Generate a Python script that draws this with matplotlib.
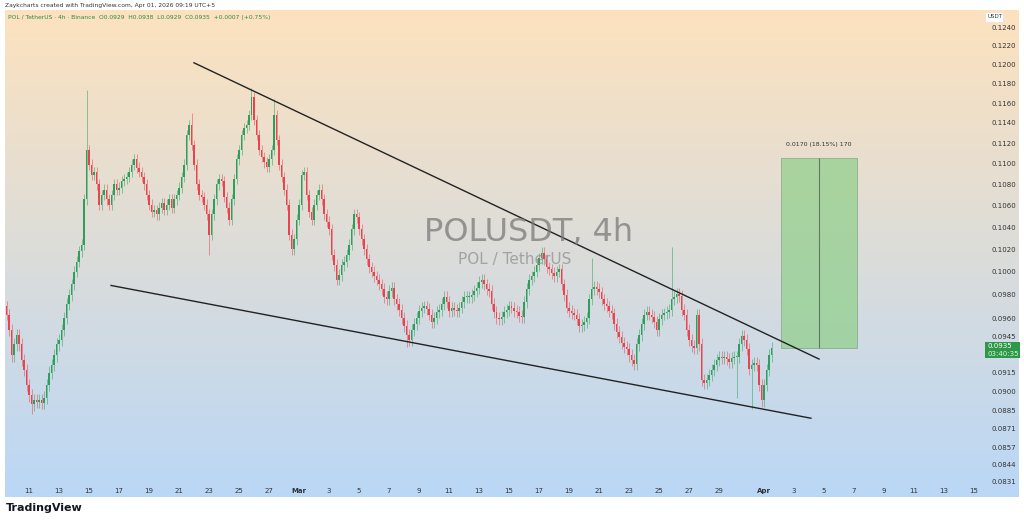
import numpy as np
import matplotlib
matplotlib.use("Agg")
import matplotlib.pyplot as plt
from matplotlib.patches import Rectangle

# ---- data (4h closes, POLUSDT) ----
closes = [
 .0963,.0950,.0929,.0938,.0946,.0938,
 .0925,.0917,.0905,.0897,.0890,.0893,
 .0892,.0893,.0891,.0895,.0905,.0915,
 .0921,.0929,.0938,.0942,.0950,.0960,
 .0972,.0980,.0989,.1000,.1009,.1018,
 .1024,.1066,.1113,.1099,.1089,.1092,
 .1080,.1061,.1070,.1075,.1066,.1061,
 .1070,.1080,.1075,.1077,.1083,.1085,
 .1087,.1092,.1099,.1104,.1096,.1092,
 .1087,.1080,.1070,.1061,.1054,.1056,
 .1052,.1058,.1062,.1056,.1061,.1066,
 .1058,.1066,.1070,.1077,.1087,.1099,
 .1128,.1138,.1118,.1099,.1080,.1070,
 .1068,.1061,.1052,.1033,.1052,.1066,
 .1080,.1085,.1083,.1068,.1058,.1047,
 .1066,.1085,.1104,.1113,.1128,.1135,
 .1138,.1148,.1166,.1143,.1128,.1113,
 .1106,.1101,.1097,.1104,.1113,.1148,
 .1123,.1099,.1087,.1075,.1061,.1033,
 .1020,.1029,.1047,.1061,.1089,.1092,
 .1070,.1054,.1047,.1061,.1070,.1075,
 .1066,.1052,.1045,.1038,.1015,.1006,
 .0993,.0997,.1006,.1009,.1015,.1024,
 .1038,.1052,.1049,.1038,.1029,.1020,
 .1011,.1004,.1000,.0996,.0993,.0989,
 .0985,.0978,.0976,.0983,.0986,.0976,
 .0972,.0967,.0960,.0953,.0946,.0942,
 .0950,.0955,.0960,.0966,.0969,.0970,
 .0968,.0963,.0957,.0960,.0965,.0967,
 .0972,.0978,.0974,.0966,.0969,.0967,
 .0966,.0969,.0974,.0978,.0978,.0978,
 .0980,.0983,.0986,.0991,.0993,.0989,
 .0985,.0983,.0972,.0965,.0960,.0959,
 .0961,.0965,.0967,.0970,.0969,.0966,
 .0965,.0962,.0961,.0974,.0985,.0993,
 .0996,.1000,.1006,.1012,.1017,.1011,
 .1004,.1002,.0999,.0996,.1000,.1002,
 .0989,.0980,.0969,.0966,.0964,.0963,
 .0959,.0953,.0954,.0957,.0960,.0976,
 .0985,.0987,.0985,.0982,.0976,.0972,
 .0970,.0966,.0964,.0955,.0948,.0944,
 .0939,.0936,.0934,.0929,.0925,.0922,
 .0938,.0946,.0955,.0963,.0965,.0963,
 .0961,.0957,.0950,.0959,.0963,.0964,
 .0965,.0967,.0976,.0978,.0981,.0979,
 .0967,.0963,.0950,.0942,.0937,.0935,
 .0963,.0938,.0909,.0907,.0909,.0913,
 .0917,.0921,.0925,.0928,.0927,.0928,
 .0926,.0924,.0927,.0928,.0928,.0938,
 .0945,.0942,.0934,.0918,.0921,.0923,
 .0921,.0905,.0893,.0905,.0917,.0929,
 .0935,
]
first_open = 0.0970
wick = 0.0005
spike_high = {32: 0.1174, 74: 0.1150, 98: 0.1176, 107: 0.1164, 234: 0.1012, 266: 0.1022}
spike_low = {10: 0.0882, 81: 0.1015, 160: 0.0936, 298: 0.0886, 292: 0.0895}

upper_line = ([11.0, 52.67], [0.1202, 0.0926])
lower_line = ([5.47, 52.13], [0.0988, 0.0879])
box_days = (50.13, 55.2)
box_prices = (0.0935, 0.1105)

ytick_vals = [0.1240,0.1220,0.1200,0.1180,0.1160,0.1140,0.1120,0.1100,0.1080,0.1060,
              0.1040,0.1020,0.1000,0.0980,0.0960,0.0945,0.0915,0.0900,0.0885,0.0871,
              0.0857,0.0844,0.0831]
xtick_days = list(range(0, 17, 2)) + [18] + list(range(20, 47, 2)) + [49] + list(range(51, 64, 2))
xtick_labels = [str(d) for d in range(11, 28, 2)] + ["Mar"] + [str(d) for d in range(3, 30, 2)] + ["Apr"] + [str(d) for d in range(3, 16, 2)]

# ---- figure ----
W, H = 1024, 520
fig = plt.figure(figsize=(W/100, H/100), dpi=100)
fig.patch.set_facecolor("white")

def fx(px): return px / W
def fy(py): return 1 - py / H

bg = fig.add_axes([fx(5), fy(497), fx(1019) - fx(5), fy(10) - fy(497)])
top = np.array([253, 226, 190]) / 255
bot = np.array([186, 215, 246]) / 255
t = np.linspace(0, 1, 256)[:, None]
grad = top[None, :] * (1 - t) + bot[None, :] * t
bg.imshow(grad[:, None, :], aspect="auto", extent=[0, 1, 0, 1])
bg.axis("off")

ax = fig.add_axes([fx(5), fy(482), fx(980) - fx(5), fy(12) - fy(482)])
ax.patch.set_alpha(0)
ax.set_yscale("log")
ax.set_xlim(-1.6, 63.4)
ax.set_ylim(0.08311, 0.1257)
for s in ax.spines.values():
    s.set_visible(False)

green = "#2f9e5c"
red = "#e9434f"
opens = [first_open] + closes[:-1]
for i, (o, c) in enumerate(zip(opens, closes)):
    d = -1.5 + i / 6
    col = green if c >= o else red
    hi = spike_high.get(i, max(o, c) + wick)
    lo = spike_low.get(i, min(o, c) - wick)
    ax.vlines(d, lo, hi, color=col, lw=0.6, alpha=0.6)
    b0, b1 = min(o, c), max(o, c)
    if b1 - b0 < 0.00005:
        b1 = b0 + 0.00005
    ax.add_patch(Rectangle((d - 0.065, b0), 0.13, b1 - b0, color=col, lw=0))

ax.plot(*upper_line, color="#222222", lw=1.0)
ax.plot(*lower_line, color="#222222", lw=1.0)

ax.add_patch(Rectangle((box_days[0], box_prices[0]), box_days[1] - box_days[0],
                       box_prices[1] - box_prices[0], facecolor="#8fcf8a", alpha=0.7,
                       edgecolor="#7a9a7a", lw=0.6))
mid = (box_days[0] + box_days[1]) / 2
ax.vlines(mid, box_prices[0], box_prices[1], color="#5f7a5f", lw=0.8)
ax.text(mid, 0.1116, "0.0170 (18.15%) 170", fontsize=4.5, ha="center", va="bottom", color="#333333")

ax.text(33.3, 0.1035, "POLUSDT, 4h", fontsize=23, ha="center", va="center", color="#7a7a7a", alpha=0.75)
ax.text(32.4, 0.1011, "POL / TetherUS", fontsize=11, ha="center", va="center", color="#8a8a8a", alpha=0.7)

ax.yaxis.tick_right()
ax.set_yticks(ytick_vals)
ax.set_yticklabels([f"{v:.4f}" for v in ytick_vals])
ax.yaxis.set_minor_locator(matplotlib.ticker.NullLocator())
ax.tick_params(axis="y", length=0, labelsize=5, colors="#333333", pad=8)
ax.set_xticks(xtick_days)
ax.set_xticklabels(xtick_labels)
for lbl in ax.get_xticklabels():
    if lbl.get_text() in ("Mar", "Apr"):
        lbl.set_fontweight("bold")
ax.tick_params(axis="x", length=0, labelsize=5, colors="#333333", pad=4)

fig.patches.append(Rectangle((fx(985), fy(358)), fx(35), fy(342) - fy(358), transform=fig.transFigure,
                             facecolor="#2e9848", edgecolor="none"))
fig.text(fx(988), fy(346), "0.0935", fontsize=5, color="white", va="center")
fig.text(fx(988), fy(354), "03:40:35", fontsize=5, color="#d8f5d8", va="center")
fig.patches.append(Rectangle((fx(985), fy(22)), fx(18), fy(12) - fy(22), transform=fig.transFigure,
                             facecolor="white", edgecolor="#dddddd", lw=0.4))
fig.text(fx(988), fy(17), "USDT", fontsize=4, color="#333333", va="center")

fig.text(fx(5), fy(5), "Zaykcharts created with TradingView.com, Apr 01, 2026 09:19 UTC+5",
         fontsize=4.3, color="#333333", va="center")
fig.text(fx(8), fy(17), "POL / TetherUS · 4h · Binance  O0.0929  H0.0938  L0.0929  C0.0935  +0.0007 (+0.75%)",
         fontsize=4.3, color="#2b8a46", va="center")
fig.text(fx(6), fy(508), "TradingView", fontsize=8, fontweight="bold", color="#131722", va="center")

fig.savefig("out.png", dpi=100)
